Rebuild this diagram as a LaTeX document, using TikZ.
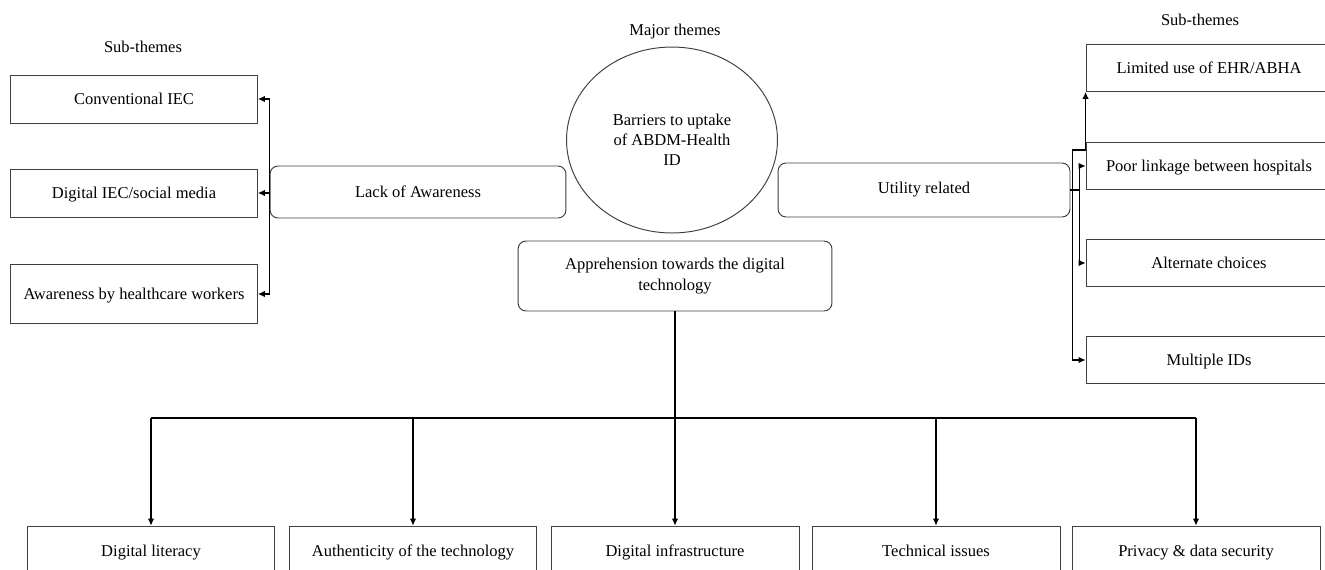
\documentclass[tikz,border=0pt]{standalone}
\usepackage{fontspec}
\setmainfont{Liberation Serif}
\usetikzlibrary{shapes.geometric,arrows.meta}
\begin{document}
\begin{tikzpicture}[
    x=0.02cm, y=-0.02cm,
    every node/.style={font=\fontsize{9.4}{11.5}\selectfont, inner sep=1pt, align=center},
    subbox/.style={draw=black!75, line width=0.55pt, minimum width=4.94cm, minimum height=0.96cm,
        text height=1.7ex, text depth=0.45ex},
    themebox/.style={draw=black!75, line width=0.55pt, rounded corners=0.16cm},
    link/.style={draw, line width=0.6pt, -{Latex[length=1.4mm,width=1.3mm]}}
]
\useasboundingbox (0,0) rectangle (1325,569);
\clip (0,0) rectangle (1325,569);

% headings
\node (lefthead) at (143,47) {Sub-themes};
\node (midhead) at (675,32) {Major themes};
\node (righthead) at (1200,20) {Sub-themes};

% major themes
\node[ellipse, draw=black!75, line width=0.55pt, minimum width=4.22cm, minimum height=3.72cm] (barriers) at (672,140) {Barriers to uptake\\of ABDM-Health\\ID};
\node[themebox, minimum width=5.92cm, minimum height=1.04cm] (lack) at (418,192) {Lack of Awareness};
\node[themebox, minimum width=6.28cm, minimum height=1.4cm] (appr) at (675,276) {Apprehension towards the digital\\technology};
\node[themebox, minimum width=5.84cm, minimum height=1.08cm] (utility) at (924,190) {Utility related};

% sub-themes, left
\node[subbox] (conv) at (134,99) {Conventional IEC};
\node[subbox] (digiec) at (134,193) {Digital IEC/social media};
\node[subbox, minimum height=1.18cm] (awhw) at (134,294) {Awareness by healthcare workers};

% sub-themes, right
\node[subbox, minimum width=4.92cm, minimum height=0.94cm] (ehr) at (1209,68) {Limited use of EHR/ABHA};
\node[subbox, minimum width=4.92cm, minimum height=0.94cm] (linkage) at (1209,166) {Poor linkage between hospitals};
\node[subbox, minimum width=4.92cm, minimum height=0.94cm] (altchoice) at (1209,263) {Alternate choices};
\node[subbox, minimum width=4.92cm, minimum height=0.94cm] (multid) at (1209,360) {Multiple IDs};

% sub-themes, bottom
\node[subbox, minimum width=4.96cm, minimum height=1.0cm] (literacy) at (151,551) {Digital literacy};
\node[subbox, minimum width=4.96cm, minimum height=1.0cm] (authentic) at (413,551) {Authenticity of the technology};
\node[subbox, minimum width=4.96cm, minimum height=1.0cm] (infra) at (675,551) {Digital infrastructure};
\node[subbox, minimum width=4.96cm, minimum height=1.0cm] (techiss) at (936,551) {Technical issues};
\node[subbox, minimum width=4.96cm, minimum height=1.0cm] (privacy) at (1196,551) {Privacy \& data security};

% left connectors
\draw[line width=0.6pt] (lack.west |- conv.east) -- (lack.west |- awhw.east);
\foreach \sub in {conv,digiec,awhw}
    \draw[link] (lack.west |- \sub.east) -- (\sub.east);

% right connectors
\coordinate (rtrunk) at ([xshift=0.04cm]utility.east);
\draw[line width=0.6pt] (rtrunk |- 0,150) -- (rtrunk |- multid.west);
\draw[link] (rtrunk |- 0,150) -| (ehr.south west);
\draw[link] (rtrunk |- multid.west) -- (multid.west);
\draw[line width=0.6pt] (utility.east) -- ++(9,0) coordinate (rfork);
\draw[line width=0.6pt] (rfork |- linkage.west) -- (rfork |- altchoice.west);
\draw[link] (rfork |- linkage.west) -- (linkage.west);
\draw[link] (rfork |- altchoice.west) -- (altchoice.west);

% bottom connectors
\coordinate (hub) at (appr.south |- 0,418);
\draw[line width=0.9pt] (appr.south) -- (hub) -- (authentic.north |- hub);
\draw[line width=0.6pt] (literacy.north |- hub) -- (privacy.north |- hub);
\foreach \sub in {literacy,authentic,infra,techiss,privacy}
    \draw[link] (\sub.north |- hub) -- (\sub.north);
\end{tikzpicture}
\end{document}
